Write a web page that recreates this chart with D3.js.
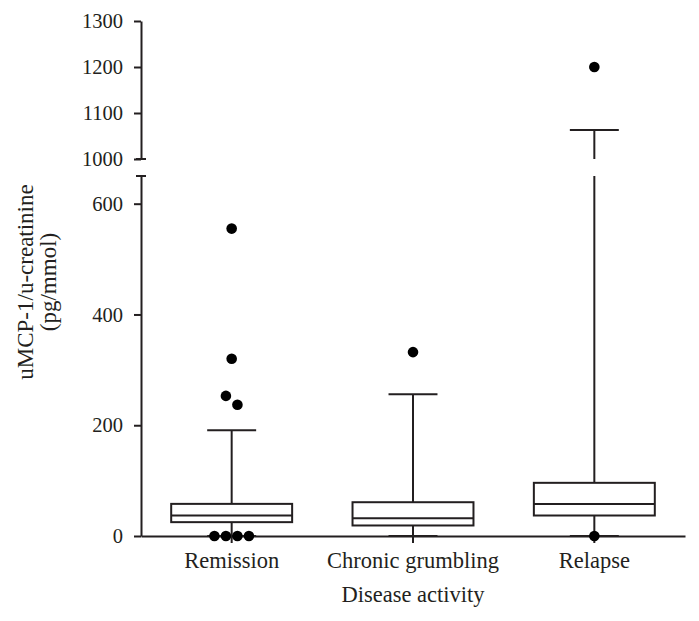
<!DOCTYPE html>
<html>
<head>
<meta charset="utf-8">
<script src="https://cdn.jsdelivr.net/npm/d3@7"></script>
<style>
  html, body { margin: 0; padding: 0; background: #fff; }
  svg { display: block; }
  text { font-family: "Liberation Serif", "Times New Roman", serif; fill: #231f20; }
</style>
</head>
<body>
<svg id="chart" width="699" height="621"></svg>
<script>
// ---- data ----
const categories = ["Remission", "Chronic grumbling", "Relapse"];
const whiskerLow = [0, 0, 0];
const q1 = [25, 19, 37];
const medians = [37, 32, 58];
const q3 = [58, 61, 96];
const whiskerHigh = [191, 256, 1063];
const outliers = [
  [0, 0, 0, 0, 237, 253, 320, 555],
  [332],
  [0, 1200]
];
const lowerTicks = [0, 200, 400, 600];
const upperTicks = [1000, 1100, 1200, 1300];
const lowerDomain = [0, 650];
const upperDomain = [1000, 1300];
const xTitle = "Disease activity";
const yTitle = ["uMCP-1/u-creatinine", "(pg/mmol)"];

// ---- layout ----
const ink = "#231f20";
const svg = d3.select("#chart");
const axisX = 141, axisRight = 685;
const x = d3.scaleBand().domain(categories).range([axisX, axisRight]).padding(0);
const yLow = d3.scaleLinear().domain(lowerDomain).range([536, 176]);
const yHigh = d3.scaleLinear().domain(upperDomain).range([159, 21]);
const yPos = v => (v <= lowerDomain[1] ? yLow(v) : yHigh(v));

const boxW = x.bandwidth() * 0.667;
const capW = x.bandwidth() * 0.27;
const g = svg.append("g");

// axes
function styleAxis(sel) {
  sel.selectAll("path, line").attr("stroke", ink).attr("stroke-width", 2);
  sel.selectAll("text").attr("font-size", 20.5).attr("fill", ink)
    .style("font-family", '"Liberation Serif", serif');
}
const axLow = g.append("g").attr("transform", `translate(${axisX},0)`)
  .call(d3.axisLeft(yLow).tickValues(lowerTicks).tickFormat(d3.format("d"))
    .tickSize(7).tickSizeOuter(0).tickPadding(11));
styleAxis(axLow);
const axHigh = g.append("g").attr("transform", `translate(${axisX},0)`)
  .call(d3.axisLeft(yHigh).tickValues(upperTicks).tickFormat(d3.format("d"))
    .tickSize(7).tickSizeOuter(0).tickPadding(11));
styleAxis(axHigh);
// break caps
[yHigh(upperDomain[0]), yLow(lowerDomain[1])].forEach(yy => {
  g.append("line").attr("x1", axisX - 5).attr("x2", axisX + 5)
    .attr("y1", yy).attr("y2", yy).attr("stroke", ink).attr("stroke-width", 2);
});

const axB = g.append("g").attr("transform", `translate(0,${yLow(0)})`)
  .call(d3.axisBottom(x).tickSize(7).tickSizeOuter(0).tickPadding(9));
axB.selectAll("path, line").attr("stroke", ink).attr("stroke-width", 2);
axB.selectAll("text").attr("font-size", 22.5).attr("fill", ink)
  .style("font-family", '"Liberation Serif", serif');

// boxes
categories.forEach((c, i) => {
  const cx = x(c) + x.bandwidth() / 2;
  const line = (x1, y1, x2, y2) => g.append("line")
    .attr("x1", x1).attr("y1", y1).attr("x2", x2).attr("y2", y2)
    .attr("stroke", ink).attr("stroke-width", 2);
  // upper whisker (split at break if needed)
  if (whiskerHigh[i] > lowerDomain[1]) {
    line(cx, yLow(q3[i]), cx, yLow(lowerDomain[1]));
    line(cx, yHigh(upperDomain[0]), cx, yHigh(whiskerHigh[i]));
  } else {
    line(cx, yLow(q3[i]), cx, yLow(whiskerHigh[i]));
  }
  line(cx - capW / 2, yPos(whiskerHigh[i]), cx + capW / 2, yPos(whiskerHigh[i]));
  // lower whisker
  line(cx, yLow(q1[i]), cx, yLow(whiskerLow[i]));
  line(cx - capW / 2, yLow(whiskerLow[i]), cx + capW / 2, yLow(whiskerLow[i]));
  // box
  g.append("rect").attr("x", cx - boxW / 2).attr("y", yLow(q3[i]))
    .attr("width", boxW).attr("height", yLow(q1[i]) - yLow(q3[i]))
    .attr("fill", "#fff").attr("stroke", ink).attr("stroke-width", 2);
  line(cx - boxW / 2, yLow(medians[i]), cx + boxW / 2, yLow(medians[i]));

  // outliers with simple collision spreading
  const r = 5.3, step = 11.5;
  const pts = outliers[i].map(v => ({ v, y: yPos(v) })).sort((a, b) => b.v - a.v);
  const clusters = [];
  pts.forEach(p => {
    const last = clusters[clusters.length - 1];
    if (last && Math.abs(last[last.length - 1].y - p.y) < 2 * r) last.push(p);
    else clusters.push([p]);
  });
  clusters.forEach(cl => {
    cl.forEach((p, k) => {
      g.append("circle").attr("cx", cx + (k - (cl.length - 1) / 2) * step)
        .attr("cy", p.y).attr("r", r).attr("fill", "#000");
    });
  });
});

// titles
svg.append("text").attr("x", x.range()[0] + (x.range()[1] - x.range()[0]) / 2)
  .attr("y", 602).attr("text-anchor", "middle").attr("font-size", 22.5).text(xTitle);
const yt = svg.append("text").attr("transform", "translate(33,282) rotate(-90)")
  .attr("text-anchor", "middle").attr("font-size", 23);
yTitle.forEach((t, k) => {
  yt.append("tspan").attr("x", 0).attr("y", k * 23).text(t);
});
</script>
</body>
</html>
